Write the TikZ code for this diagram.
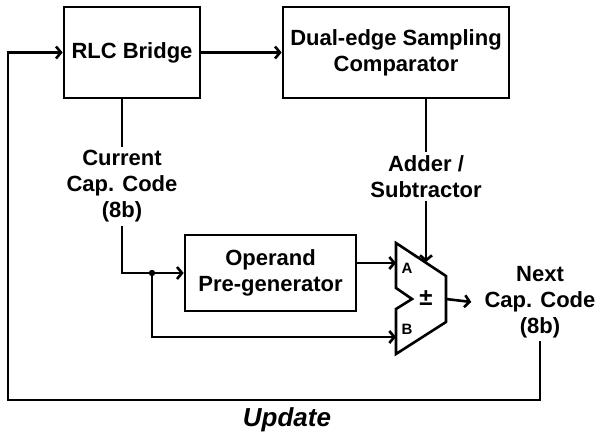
\documentclass[tikz,border=0pt]{standalone}
\usepackage{fontspec}
\setmainfont{Liberation Sans}
\usetikzlibrary{arrows.meta}

\begin{document}
\begin{tikzpicture}[x=1pt, y=-1pt, line width = 2.6pt,
  font=\fontsize{22}{26}\selectfont\bfseries,
  block/.style={draw, minimum height=91pt, align=center},
  lbl/.style={align=center, inner sep=2pt},
  arr/.style={-{Straight Barb[length=5pt,width=12pt]}}]

\useasboundingbox (0,0) rectangle (597,436);

\node[block, minimum width=136pt] (rlc) at (132,52.5) {RLC Bridge};
\node[block, minimum width=226pt] (cmp) at (396,52.5) {Dual-edge Sampling\\Comparator};
\node[block, minimum width=171pt, minimum height=76pt] (opg) at (270.5,273) {Operand\\Pre-generator};

\node[lbl] (cur) at (122,186.5) {Current\\Cap. Code\\(8b)};
\node[lbl] (add) at (426,176.5) {Adder /\\Subtractor};
\node[lbl] (nxt) at (540,302) {Next\\Cap. Code\\(8b)};

% adder / subtractor
\draw[line join=miter] (396,243)--(446,276)--(446,322)--(396,354)--(396,309)--(412,299)--(396,288)--cycle;
\node[font=\fontsize{15}{16}\selectfont\bfseries] (ina) at (407,268) {A};
\node[font=\fontsize{15}{16}\selectfont\bfseries] (inb) at (407,329) {B};
\node[font=\fontsize{24}{26}\selectfont\bfseries] (pm) at (426,298) {±};
\coordinate (muxA) at (396,263);
\coordinate (muxB) at (396,337);
\coordinate (muxtop) at (426,262);
\coordinate (muxout) at (446,299);

\coordinate (split) at (152,273);
\coordinate (fb) at (8,400);

\draw[arr] (rlc) -- (cmp);
\draw (rlc.south -| cur.north) -- (cur.north);
\draw[arr] (cur.south) |- (opg.west);
\fill (split) circle (3.2pt);
\draw[arr] (split) |- (muxB);
\draw[arr] (opg.east |- muxA) -- (muxA);
\draw (cmp.south -| add.north) -- (add.north);
\draw[arr] (add.south) -- (muxtop);
\draw[arr] (muxout) -- ([xshift=-10pt]nxt.west);
\draw[arr] (nxt.south) |- (fb) |- (rlc.west);

\node[font=\fontsize{26}{28}\selectfont\bfseries\itshape] (upd) at (287,420) {Update};

\end{tikzpicture}
\end{document}
